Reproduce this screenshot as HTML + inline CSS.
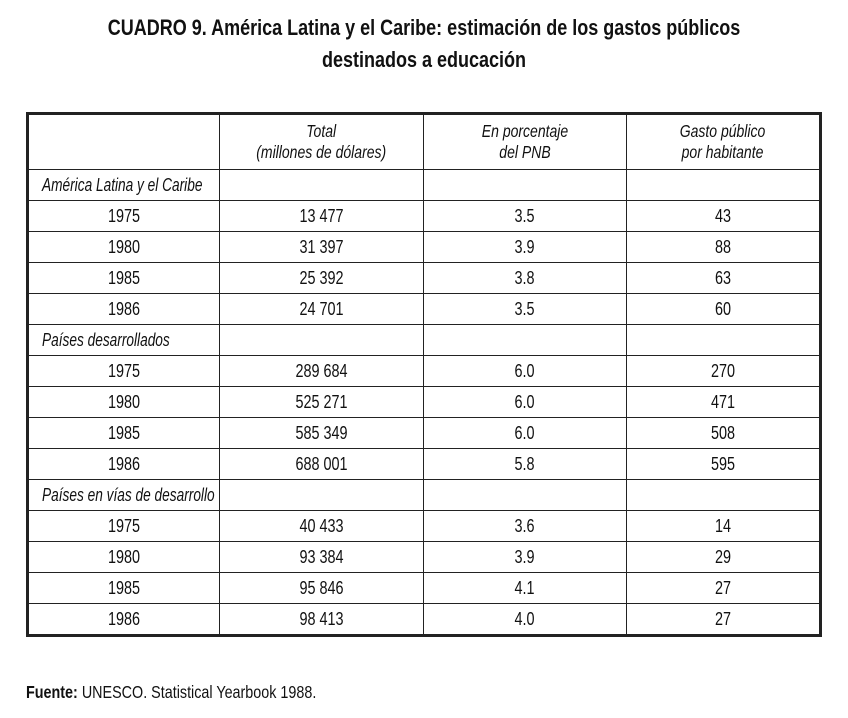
<!DOCTYPE html>
<html><head><meta charset="utf-8">
<style>
body{margin:0;width:848px;height:718px;background:#fff;overflow:hidden;font-family:"Liberation Sans",sans-serif;color:#111;}
.title{position:absolute;left:-106px;width:1060px;text-align:center;font-weight:bold;font-size:22.5px;line-height:32px;top:12px;transform:scaleX(0.8);transform-origin:530px 0;white-space:nowrap;}
table{position:absolute;left:26px;top:112px;width:796px;border-collapse:collapse;border:3px solid #222;table-layout:fixed;}
td{border:1px solid #222;font-size:18px;text-align:center;height:30px;padding:0;white-space:nowrap;overflow:visible;}
td span{display:inline-block;transform:scaleX(0.8);}
col.c1{width:192px}col.c2{width:204px}col.c3{width:203px}
tr.h td{height:54px;font-style:italic;line-height:21px;font-size:17.5px;}
td.sec{font-style:italic;text-align:left;padding-left:0;}
td.sec span{transform-origin:0 50%;margin-left:13px;transform:scaleX(0.76);}
.src{position:absolute;left:26px;top:682px;font-size:17.5px;transform:scaleX(0.82);transform-origin:0 0;white-space:nowrap;}
</style></head><body>
<div class="title">CUADRO 9. <span style="font-weight:bold">América Latina y el Caribe: estimación de los gastos públicos</span><br>destinados a educación</div>
<table>
<colgroup><col class="c1"><col class="c2"><col class="c3"><col></colgroup>
<tr class="h"><td></td><td><span>Total<br>(millones de dólares)</span></td><td><span>En porcentaje<br>del PNB</span></td><td><span>Gasto público<br>por habitante</span></td></tr>
<tr><td class="sec"><span>América Latina y el Caribe</span></td><td></td><td></td><td></td></tr>
<tr><td><span>1975</span></td><td><span>13 477</span></td><td><span>3.5</span></td><td><span>43</span></td></tr>
<tr><td><span>1980</span></td><td><span>31 397</span></td><td><span>3.9</span></td><td><span>88</span></td></tr>
<tr><td><span>1985</span></td><td><span>25 392</span></td><td><span>3.8</span></td><td><span>63</span></td></tr>
<tr><td><span>1986</span></td><td><span>24 701</span></td><td><span>3.5</span></td><td><span>60</span></td></tr>
<tr><td class="sec"><span>Países desarrollados</span></td><td></td><td></td><td></td></tr>
<tr><td><span>1975</span></td><td><span>289 684</span></td><td><span>6.0</span></td><td><span>270</span></td></tr>
<tr><td><span>1980</span></td><td><span>525 271</span></td><td><span>6.0</span></td><td><span>471</span></td></tr>
<tr><td><span>1985</span></td><td><span>585 349</span></td><td><span>6.0</span></td><td><span>508</span></td></tr>
<tr><td><span>1986</span></td><td><span>688 001</span></td><td><span>5.8</span></td><td><span>595</span></td></tr>
<tr><td class="sec"><span>Países en vías de desarrollo</span></td><td></td><td></td><td></td></tr>
<tr><td><span>1975</span></td><td><span>40 433</span></td><td><span>3.6</span></td><td><span>14</span></td></tr>
<tr><td><span>1980</span></td><td><span>93 384</span></td><td><span>3.9</span></td><td><span>29</span></td></tr>
<tr><td><span>1985</span></td><td><span>95 846</span></td><td><span>4.1</span></td><td><span>27</span></td></tr>
<tr><td><span>1986</span></td><td><span>98 413</span></td><td><span>4.0</span></td><td><span>27</span></td></tr>
</table>
<div class="src"><b>Fuente:</b> UNESCO. Statistical Yearbook 1988.</div>
</body></html>
